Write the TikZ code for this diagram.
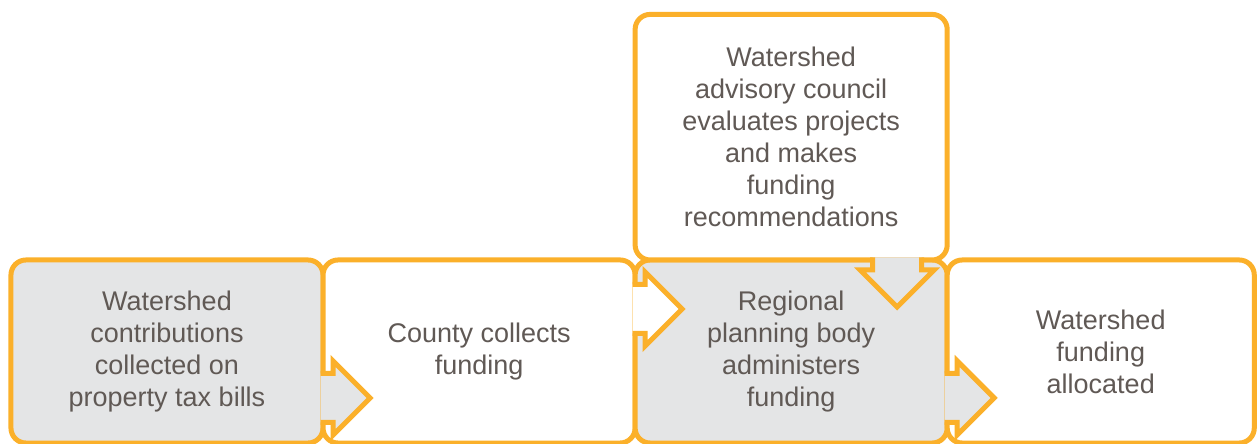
\documentclass[tikz,border=0pt]{standalone}
\usepackage{fontspec}
\setmainfont{Liberation Sans}
\usetikzlibrary{positioning}
\usetikzlibrary{calc}

\definecolor{flowgold}{HTML}{FBB02A}
\definecolor{flowgray}{HTML}{E4E5E6}
\definecolor{flowtext}{HTML}{605955}

\begin{document}
\begin{tikzpicture}[
                          x=0.025cm, y=-0.025cm,
                          stagebox/.style={rectangle, draw=flowgold, line width=0.125cm, rounded corners=0.375cm, outer sep=0pt, minimum width=7.8cm, minimum height=4.575cm, align=center, text=flowtext, font=\fontsize{19.2}{22.8}\selectfont},
                          shadedbox/.style={stagebox, fill=flowgray},
                          plainbox/.style={stagebox, fill=white},
                          pics/notch/.style={code={
                              \filldraw[draw=flowgold, line width=0.125cm, fill=#1]
                                  (-2.5,-24.5) -- (10,-24.5) -- (10,-37) -- (47,0) -- (10,37) -- (10,24.5) -- (-2.5,24.5);
                          }},
                      ]
                      \useasboundingbox (0,0) rectangle (1257,444);

                      % Nodes
                      \node[shadedbox]     (contrib)     at (167,351.5)           {Watershed\\contributions\\collected on\\property tax bills};
                      \node[plainbox]      (county)      [right=0pt of contrib]   {County collects\\funding};
                      \node[shadedbox]     (regional)    [right=0pt of county]    {Regional\\planning body\\administers\\funding};
                      \node[plainbox, minimum width=7.675cm]   (allocated)   [right=0pt of regional]  {Watershed\\funding\\allocated};
                      \node[plainbox, minimum height=6.1375cm] (council)     [above=0pt of regional]  {Watershed\\advisory council\\evaluates projects\\and makes\\funding\\recommendations};

                      % Arrows
                      \pic at ($(contrib.east)+(0,46.5)$)   {notch=flowgray};
                      \pic at ($(county.east)+(0,-42.5)$)   {notch=white};
                      \pic at ($(regional.east)+(0,46.5)$)  {notch=flowgray};
                      \pic[rotate=-90] at ($(council.south)+(106,0)$) {notch=flowgray};
                  \end{tikzpicture}
\end{document}
